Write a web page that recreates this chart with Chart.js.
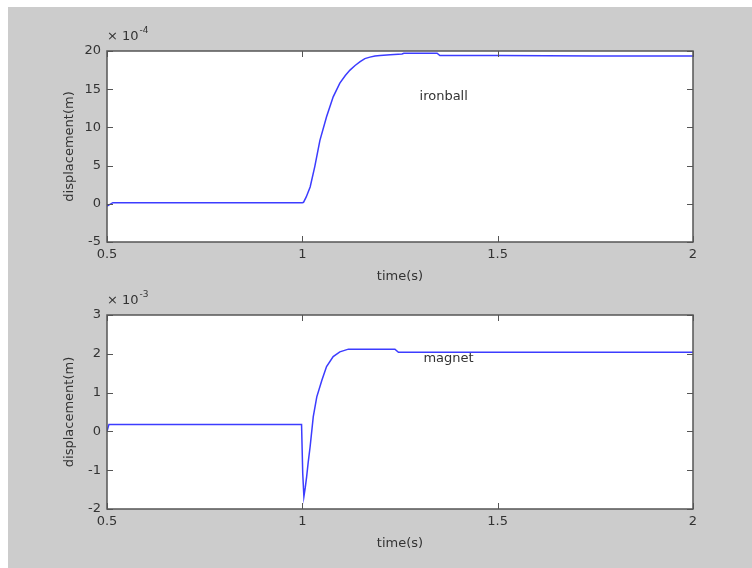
<!DOCTYPE html>
<html>
<head>
<meta charset="utf-8">
<script src="https://cdn.jsdelivr.net/npm/chart.js@4.4.1/dist/chart.umd.min.js"></script>
<style>
  html, body { margin: 0; padding: 0; background: #ffffff; }
  #frame { position: absolute; left: 8px; top: 7px; width: 744px; height: 561px; background: #cccccc; }
  canvas { position: absolute; left: 0; }
  #c1 { top: 0; }
  #c2 { top: 290px; }
</style>
</head>
<body>
<div id="frame"></div>
<canvas id="c1" width="752" height="290"></canvas>
<canvas id="c2" width="752" height="278"></canvas>
<script>
// Iron ball displacement, in units of 1e-4 m
const ironballTime = [0.5, 0.515, 1.0, 1.003, 1.01, 1.02, 1.032, 1.045, 1.062, 1.079, 1.096, 1.11, 1.122, 1.135, 1.148, 1.16, 1.173, 1.186, 1.199, 1.225, 1.255, 1.26, 1.345, 1.352, 1.5, 1.75, 2.0];
const ironballDisp = [-0.3, 0.15, 0.15, 0.2, 0.9, 2.2, 4.9, 8.3, 11.4, 14.0, 15.8, 16.8, 17.5, 18.1, 18.6, 19.0, 19.2, 19.35, 19.4, 19.5, 19.6, 19.7, 19.7, 19.4, 19.4, 19.35, 19.35];

// Magnet displacement, in units of 1e-3 m
const magnetTime = [0.5, 0.505, 0.998, 1.001, 1.004, 1.0075, 1.011, 1.015, 1.020, 1.028, 1.037, 1.050, 1.062, 1.079, 1.096, 1.118, 1.237, 1.246, 1.5, 2.0];
const magnetDisp = [0.0, 0.18, 0.18, -1.08, -1.68, -1.45, -1.17, -0.8, -0.39, 0.38, 0.89, 1.32, 1.67, 1.93, 2.05, 2.12, 2.12, 2.04, 2.04, 2.04];

// Axis ranges and tick steps
const timeTicks = [0.5, 1, 1.5, 2];
const ironballYTicks = [-5, 0, 5, 10, 15, 20];
const magnetYTicks = [-2, -1, 0, 1, 2, 3];
const ironballExponent = '-4';
const magnetExponent = '-3';

// Text annotations inside the axes: [time, value, text]
const ironballNote = [1.3, 14.0, 'ironball'];
const magnetNote = [1.31, 1.87, 'magnet'];

const FONT = 'DejaVu Sans';
const TEXT = '#333333';
const AXIS = '#555555';

function pairs(xs, ys) { return xs.map((x, i) => ({ x: x, y: ys[i] })); }

// Draws white axes background, boxed frame with inward ticks, exponent and note
const axesBox = {
  id: 'axesBox',
  beforeDatasetsDraw(chart) {
    const a = chart.chartArea, ctx = chart.ctx;
    ctx.save();
    ctx.fillStyle = '#ffffff';
    ctx.fillRect(a.left, a.top, a.right - a.left, a.bottom - a.top);
    ctx.restore();
  },
  afterDraw(chart, args, opts) {
    const a = chart.chartArea, ctx = chart.ctx;
    const xs = chart.scales.x, ys = chart.scales.y;
    const L = 6;
    ctx.save();
    ctx.strokeStyle = AXIS;
    ctx.lineWidth = 1.5;
    ctx.strokeRect(a.left, a.top, a.right - a.left, a.bottom - a.top);
    ctx.lineWidth = 1;
    ctx.beginPath();
    opts.xTicks.forEach(v => {
      const p = Math.round(xs.getPixelForValue(v)) + 0.5;
      ctx.moveTo(p, a.bottom); ctx.lineTo(p, a.bottom - L);
      ctx.moveTo(p, a.top); ctx.lineTo(p, a.top + L);
    });
    opts.yTicks.forEach(v => {
      const p = Math.round(ys.getPixelForValue(v)) + 0.5;
      ctx.moveTo(a.left, p); ctx.lineTo(a.left + L, p);
      ctx.moveTo(a.right, p); ctx.lineTo(a.right - L, p);
    });
    ctx.stroke();

    // scale exponent above the top-left corner
    ctx.fillStyle = TEXT;
    ctx.textBaseline = 'middle';
    ctx.textAlign = 'left';
    ctx.font = '13px "' + FONT + '"';
    const base = '\u00d7 10';
    ctx.fillText(base, a.left, a.top - 14);
    const w = ctx.measureText(base).width;
    ctx.font = '9px "' + FONT + '"';
    ctx.fillText(opts.exponent, a.left + w + 1, a.top - 20);

    // annotation text
    ctx.font = '13px "' + FONT + '"';
    const n = opts.note;
    ctx.fillText(n[2], xs.getPixelForValue(n[0]), ys.getPixelForValue(n[1]));
    ctx.restore();
  }
};

function makeChart(id, xs, ys, yTicks, exponent, note, padTop, xHeight, titlePad) {
  const yMin = yTicks[0], yMax = yTicks[yTicks.length - 1];
  return new Chart(document.getElementById(id), {
    type: 'line',
    data: {
      datasets: [{
        data: pairs(xs, ys),
        borderColor: 'rgb(60,60,255)',
        borderWidth: 1.5,
        pointRadius: 0,
        tension: 0,
        fill: false
      }]
    },
    options: {
      responsive: false,
      animation: false,
      devicePixelRatio: 1,
      layout: { padding: { top: padTop, right: 59, left: 0, bottom: 0 } },
      plugins: {
        legend: { display: false },
        tooltip: { enabled: false },
        axesBox: { xTicks: timeTicks, yTicks: yTicks, exponent: exponent, note: note }
      },
      scales: {
        x: {
          type: 'linear',
          min: timeTicks[0],
          max: timeTicks[timeTicks.length - 1],
          afterBuildTicks: s => { s.ticks = timeTicks.map(v => ({ value: v })); },
          afterFit: s => { s.height = xHeight; },
          grid: { display: false, drawTicks: false },
          border: { display: false },
          ticks: { color: TEXT, font: { family: FONT, size: 13 }, padding: 5, maxRotation: 0, autoSkip: false, callback: v => String(v) },
          title: { display: true, text: 'time(s)', color: TEXT, font: { family: FONT, size: 13 }, padding: { top: 0, bottom: titlePad } }
        },
        y: {
          type: 'linear',
          min: yMin,
          max: yMax,
          afterBuildTicks: s => { s.ticks = yTicks.map(v => ({ value: v })); },
          afterFit: s => { s.width = 107; },
          grid: { display: false, drawTicks: false },
          border: { display: false },
          ticks: { color: TEXT, font: { family: FONT, size: 13 }, padding: 6, callback: v => String(v) },
          title: { display: true, text: 'displacement(m)', color: TEXT, font: { family: FONT, size: 13 }, padding: { top: 62, bottom: 0 } }
        }
      }
    },
    plugins: [axesBox]
  });
}

makeChart('c1', ironballTime, ironballDisp, ironballYTicks, ironballExponent, ironballNote, 51, 48, 5.2);
makeChart('c2', magnetTime, magnetDisp, magnetYTicks, magnetExponent, magnetNote, 25, 59, 16.2);
</script>
</body>
</html>
